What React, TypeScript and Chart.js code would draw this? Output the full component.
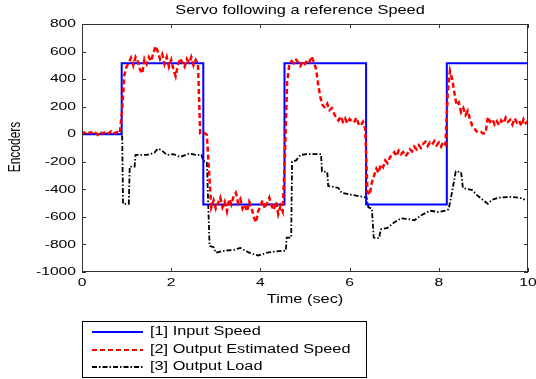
import React, { useEffect, useRef } from "react";
import { Chart, registerables } from "chart.js";

Chart.register(...registerables);

const titleText = "Servo following a reference Speed";
const xTitle = "Time (sec)";
const yTitle = "Encoders";
const seriesLabels = ["[1] Input Speed", "[2] Output Estimated Speed", "[3] Output Load"];

const xMin = 0;
const xMax = 10;
const xStep = 2;
const yMin = -1000;
const yMax = 800;
const yStep = 200;

// [1] Input Speed (step reference)
const inputT = [0, 0.89, 0.89, 2.72, 2.72, 4.54, 4.54, 6.37, 6.37, 8.18, 8.18, 10];
const inputV = [0, 0, 515, 515, -510, -510, 515, 515, -510, -510, 515, 515];

// [2] Output Estimated Speed, sampled every 0.05 s from 0 to 10 s
const estStep = 0.05;
const estV = [
  5, 12, -3, 8, 15, 0, 10, -5, 18, 6, 12, -2, 9, 20, 4, 11, 16, 8,
  180, 430, 490,
  520, 555, 500, 560, 530, 470, 440, 545, 510, 560, 530, 590, 640, 600, 545, 580,
  510, 560, 490, 540, 470, 420, 500, 550, 520, 490, 545, 515, 560, 500, 540, 510,
  5, 0, 8, -5, -280, -530,
  -480, -540, -500, -460, -530, -490, -560, -470, -510, -450, -425, -500, -470, -540, -510, -560,
  -490, -530, -600, -640, -560, -520, -480, -540, -500, -460, -520, -550, -490, -580, -520, -560,
  -150, 380, 510,
  530, 515, 540, 520, 495, 530, 510, 540, 525, 565, 520,
  470, 350, 260, 210, 190, 220, 175, 190, 150, 120, 100, 130, 90, 115, 80, 110, 95, 85, 120, 75, 60, 90, 40,
  -420, -440, -350, -300, -250, -280, -220, -240, -190, -210, -170, -150, -130, -160, -120, -145, -130, -160,
  -140, -110, -125, -90, -110, -80, -100, -70, -55, -85, -60, -75, -50, -80, -60, -90, -55, -75,
  300, 460, 400, 300, 210, 230, 160, 190, 140, 170, 110, 60, 40, 20, 10, 15, 5, 10,
  125, 90, 110, 70, 95, 65, 100, 80, 120, 90, 105, 70, 115, 85, 100, 60, 110, 80, 95,
];

// [3] Output Load
const loadT = [
  0, 0.9, 0.92, 1.05, 1.07, 1.18, 1.2, 1.45, 1.62, 1.7,
  1.78, 1.9, 2.05, 2.2, 2.4, 2.55, 2.68, 2.72, 2.8, 2.86,
  2.95, 3.0, 3.2, 3.4, 3.55, 3.75, 3.95, 4.15, 4.35, 4.57,
  4.59, 4.69, 4.71, 4.8, 4.9, 5.05, 5.36, 5.38, 5.5, 5.52,
  5.75, 5.82, 6.05, 6.3, 6.38, 6.42, 6.5, 6.54, 6.66, 6.7,
  6.85, 7.0, 7.15, 7.3, 7.45, 7.6, 7.8, 8.0, 8.15, 8.22,
  8.3, 8.38, 8.5, 8.54, 8.75, 8.85, 9.0, 9.1, 9.2, 9.35,
  9.6, 9.8, 9.93,
];
const loadV = [
  5, 5, -505, -505, -235, -235, -150, -150, -135, -105,
  -115, -150, -145, -165, -140, -150, -150, -195, -200, -810,
  -820, -860, -845, -840, -825, -860, -880, -860, -850, -845,
  -750, -750, -200, -190, -150, -145, -145, -270, -275, -375,
  -390, -425, -440, -455, -460, -530, -540, -750, -755, -690,
  -680, -640, -610, -615, -625, -590, -555, -565, -555, -545,
  -415, -270, -275, -390, -405, -440, -480, -505, -475, -460,
  -455, -460, -475,
];

const FONT = '"Liberation Sans", Arial, sans-serif';
const SX = 1.36;

function stretchText(
  ctx: CanvasRenderingContext2D,
  text: string,
  x: number,
  y: number,
  align: CanvasTextAlign,
  size: number
) {
  ctx.save();
  ctx.translate(x, y);
  ctx.scale(SX, 1);
  ctx.font = `${size}px ${FONT}`;
  ctx.textAlign = align;
  ctx.textBaseline = "middle";
  ctx.fillStyle = "#000";
  ctx.fillText(text, 0, 0);
  ctx.restore();
}

const decorPlugin = {
  id: "matlabDecor",
  afterDatasetsDraw(chart: any) {
    const ctx: CanvasRenderingContext2D = chart.ctx;
    const { left, right, top, bottom } = chart.chartArea;
    const xs = chart.scales.x;
    const ys = chart.scales.y;
    ctx.save();
    // frame
    ctx.strokeStyle = "#303030";
    ctx.lineWidth = 1;
    ctx.strokeRect(left + 0.5, top + 0.5, right - left - 1, bottom - top - 1);
    // ticks (inward, all sides) + labels
    const tl = 4;
    ctx.beginPath();
    xs.ticks.forEach((t: any) => {
      const px = Math.round(xs.getPixelForValue(t.value)) + 0.5;
      ctx.moveTo(px, bottom);
      ctx.lineTo(px, bottom - tl);
      ctx.moveTo(px, top);
      ctx.lineTo(px, top + tl);
    });
    ys.ticks.forEach((t: any) => {
      const py = Math.round(ys.getPixelForValue(t.value)) + 0.5;
      ctx.moveTo(left, py);
      ctx.lineTo(left + tl, py);
      ctx.moveTo(right, py);
      ctx.lineTo(right - tl, py);
    });
    ctx.stroke();
    xs.ticks.forEach((t: any) => {
      stretchText(ctx, String(t.value), xs.getPixelForValue(t.value), bottom + 11, "center", 11.5);
    });
    ys.ticks.forEach((t: any) => {
      stretchText(ctx, String(t.value), left - 6, ys.getPixelForValue(t.value), "right", 11.5);
    });
    // titles
    stretchText(ctx, titleText, 300, 11, "center", 12);
    stretchText(ctx, xTitle, (left + right) / 2, 299.5, "center", 12);
    ctx.save();
    ctx.translate(15, 147);
    ctx.rotate(-Math.PI / 2);
    ctx.scale(1, SX);
    ctx.font = `12px ${FONT}`;
    ctx.textAlign = "center";
    ctx.textBaseline = "middle";
    ctx.fillStyle = "#000";
    ctx.fillText(yTitle, 0, 0);
    ctx.restore();
    // legend
    const bx = 82.5, by = 321.5, bw = 284, bh = 56;
    ctx.fillStyle = "#fff";
    ctx.fillRect(bx, by, bw, bh);
    ctx.strokeStyle = "#000";
    ctx.lineWidth = 1;
    ctx.strokeRect(bx, by, bw, bh);
    const rows = [332, 350, 367];
    chart.data.datasets.forEach((ds: any) => {
      const y = rows[ds.legendRow];
      ctx.save();
      ctx.strokeStyle = ds.borderColor;
      ctx.lineWidth = 2;
      ctx.setLineDash(ds.borderDash || []);
      ctx.beginPath();
      ctx.moveTo(92, y);
      ctx.lineTo(143, y);
      ctx.stroke();
      ctx.restore();
      stretchText(ctx, ds.label, 150, y, "left", 12);
    });
    ctx.restore();
  },
};

export default function App() {
  const ref = useRef<HTMLCanvasElement | null>(null);
  useEffect(() => {
    if (!ref.current) return;
    const inputData = inputT.map((t, i) => ({ x: t, y: inputV[i] }));
    const estData = estV.map((v, i) => ({ x: +(i * estStep).toFixed(2), y: v }));
    const loadData = loadT.map((t, i) => ({ x: t, y: loadV[i] }));
    const chart = new Chart(ref.current, {
      type: "line",
      data: {
        datasets: [
          {
            label: seriesLabels[0],
            data: inputData,
            borderColor: "#0000FF",
            borderWidth: 2,
            pointRadius: 0,
            tension: 0,
            order: 1,
            legendRow: 0,
          } as any,
          {
            label: seriesLabels[1],
            data: estData,
            borderColor: "#FF0000",
            borderWidth: 2.5,
            borderDash: [5, 3],
            pointRadius: 0,
            tension: 0,
            order: 0,
            legendRow: 1,
          } as any,
          {
            label: seriesLabels[2],
            data: loadData,
            borderColor: "#000000",
            borderWidth: 1.8,
            borderDash: [5, 2, 1.5, 2],
            pointRadius: 0,
            tension: 0,
            order: 2,
            legendRow: 2,
          } as any,
        ],
      },
      options: {
        responsive: false,
        animation: false,
        devicePixelRatio: 1,
        layout: { padding: { top: 24, right: 8, left: 0, bottom: 0 } },
        plugins: {
          legend: { display: false },
          title: { display: false },
          tooltip: { enabled: false },
        },
        scales: {
          x: {
            type: "linear",
            min: xMin,
            max: xMax,
            ticks: { stepSize: xStep, display: false },
            grid: { display: false },
            border: { display: false },
            afterFit: (s: any) => {
              s.height = 107;
            },
          },
          y: {
            type: "linear",
            min: yMin,
            max: yMax,
            ticks: { stepSize: yStep, display: false },
            grid: { display: false },
            border: { display: false },
            afterFit: (s: any) => {
              s.width = 82;
            },
          },
        },
      },
      plugins: [decorPlugin],
    });
    return () => chart.destroy();
  }, []);
  return (
    <div style={{ position: "fixed", left: 0, top: 0, width: 536, height: 379, background: "#fff" }}>
      <canvas ref={ref} width={536} height={379} style={{ width: 536, height: 379 }} />
    </div>
  );
}
